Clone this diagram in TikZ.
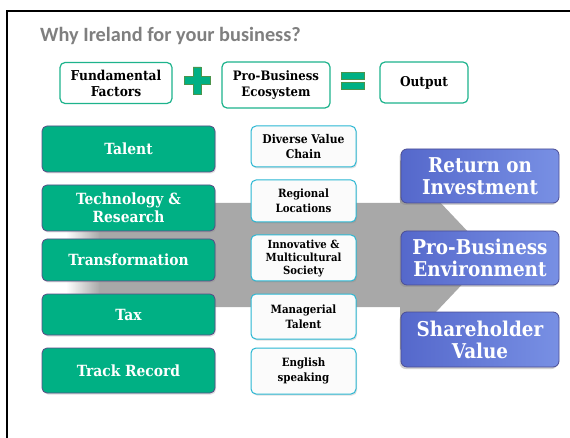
\documentclass[tikz,border=0pt]{standalone}
\usepackage{fontspec}
\setmainfont{DejaVu Serif Condensed}
\newfontfamily\titlefont{Carlito}
\usetikzlibrary{shadows}

\definecolor{titlegray}{HTML}{7F7F7F}
\definecolor{topgreen}{HTML}{1DB38C}
\definecolor{factorgreen}{HTML}{00B084}
\definecolor{factorline}{HTML}{5B4A87}
\definecolor{ecoline}{HTML}{2AB7D3}
\definecolor{ecofill}{HTML}{FBFBFB}
\definecolor{outdark}{HTML}{5568CB}
\definecolor{outlight}{HTML}{7890E4}
\definecolor{outline}{HTML}{4B4D94}
\definecolor{arrowgray}{HTML}{A8A8A8}

\tikzset{
  topbox/.style={draw=topgreen, line width=1.2pt, fill=white, rounded corners=5pt,
    align=center, inner sep=0pt, font=\bfseries},
  factor/.style={draw=factorline, line width=0.8pt, fill=factorgreen, rounded corners=5pt,
    text=white, align=center, inner sep=0pt, minimum width=173pt,
    font=\bfseries\fontsize{15.4}{18}\selectfont,
    drop shadow={opacity=0.25, shadow xshift=1pt, shadow yshift=-1.5pt}},
  eco/.style={draw=ecoline, line width=1pt, fill=ecofill, rounded corners=5pt,
    align=center, inner sep=0pt, minimum width=105pt,
    font=\bfseries\fontsize{11.4}{14.5}\selectfont,
    drop shadow={opacity=0.25, shadow xshift=1pt, shadow yshift=-1.5pt}},
  result/.style={draw=outline, line width=0.8pt, left color=outdark, right color=outlight,
    rounded corners=6pt, text=white, align=center, inner sep=0pt, minimum width=158pt,
    font=\bfseries\fontsize{20.4}{22}\selectfont,
    drop shadow={opacity=0.35, shadow xshift=-1.5pt, shadow yshift=-2pt}},
  signfill/.style={fill=factorgreen, draw=green!40!black!70, line width=0.6pt}
}

\begin{document}
\begin{tikzpicture}[x=1pt, y=-1pt]
\useasboundingbox (0,0) rectangle (570,438);
\fill[white] (0,0) rectangle (570,438);
\draw[line width=2pt] (7,438) -- (7,11) -- (570,11);

\node[anchor=base west, inner sep=0pt, text=titlegray, font=\titlefont\bfseries\fontsize{20.3}{22}\selectfont]
  (title) at (40,42) {Why Ireland for your business?};

% equation row
\node[topbox, minimum width=112pt, minimum height=41pt, font=\bfseries\fontsize{13.6}{16}\selectfont]
  (fund) at (116,83) {Fundamental\\Factors};
\node[topbox, minimum width=108pt, minimum height=46pt, font=\bfseries\fontsize{13}{15.5}\selectfont]
  (eco) at (276,85) {Pro-Business\\Ecosystem};
\node[topbox, minimum width=88pt, minimum height=41pt, font=\bfseries\fontsize{13.5}{16}\selectfont]
  (out) at (424,82.5) {Output};

\draw[signfill] (193,67) -- (201,67) -- (201,76.5) -- (210,76.5) -- (210,84.5) -- (201,84.5)
  -- (201,94) -- (193,94) -- (193,84.5) -- (184,84.5) -- (184,76.5) -- (193,76.5) -- cycle;
\draw[signfill] (341,72) rectangle (364,79);
\draw[signfill] (341,82) rectangle (364,89);

% big arrow
\shade[left color=white, right color=arrowgray] (66,203) rectangle (100,307);
\fill[arrowgray] (99.5,203) -- (400,203) -- (400,160) -- (490,255) -- (400,350) -- (400,307)
  -- (99.5,307) -- cycle;

% fundamental factors
\node[factor, minimum height=46pt] (talent) at (128.5,149) {Talent};
\node[factor, minimum height=46pt] (tech) at (128.5,208) {Technology \&\\Research};
\node[factor, minimum height=42pt] (trans) at (128.5,260) {Transformation};
\node[factor, minimum height=41pt] (tax) at (128.5,314.5) {Tax};
\node[factor, minimum height=45pt] (track) at (128.5,370.5) {Track Record};

% ecosystem
\node[eco, minimum height=41pt, font=\bfseries\fontsize{12}{14.5}\selectfont]
  (chain) at (303.5,146.5) {Diverse Value\\Chain};
\node[eco, minimum height=42pt] (region) at (303.5,201) {Regional\\Locations};
\node[eco, minimum height=46pt, font=\bfseries\fontsize{11.2}{13}\selectfont]
  (society) at (303.5,258) {Innovative \&\\Multicultural\\Society};
\node[eco, minimum height=45pt] (manager) at (303.5,316.5) {Managerial\\Talent};
\node[eco, minimum height=46pt] (english) at (303.5,371) {English\\speaking};

% outputs
\node[result, minimum height=54pt] (roi) at (480,176) {Return on\\Investment};
\node[result, minimum height=54pt] (env) at (480,258) {Pro-Business\\Environment};
\node[result, minimum height=55pt] (share) at (480,339.5) {Shareholder\\Value};
\end{tikzpicture}
\end{document}
